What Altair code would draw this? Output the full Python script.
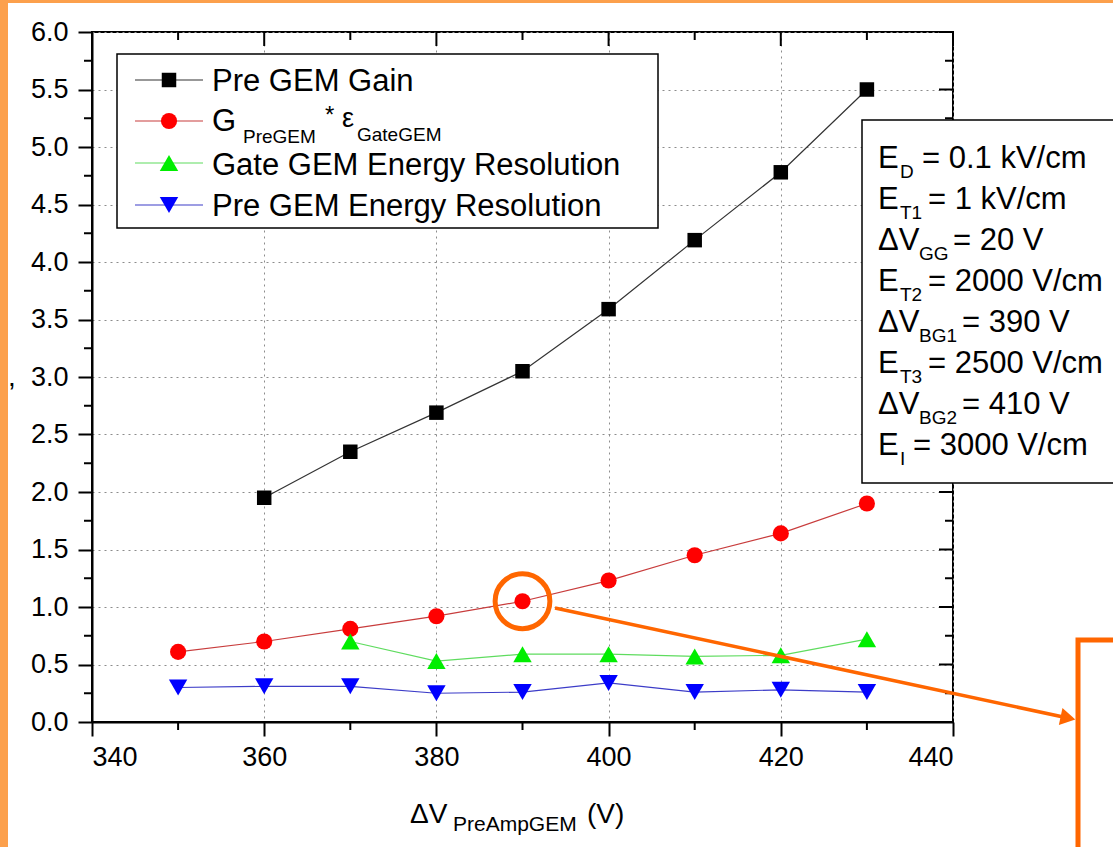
import altair as alt
import pandas as pd

# ---------------- data ----------------
volts = [350, 360, 370, 380, 390, 400, 410, 420, 430]
pre_gem_gain = [None, 1.95, 2.35, 2.69, 3.05, 3.59, 4.19, 4.78, 5.50]
g_eps = [0.61, 0.70, 0.81, 0.92, 1.05, 1.23, 1.45, 1.64, 1.90]
gate_res = [None, None, 0.70, 0.53, 0.59, 0.59, 0.57, 0.58, 0.72]
pre_res = [0.30, 0.31, 0.31, 0.25, 0.26, 0.34, 0.26, 0.28, 0.26]

series_keys = ["gain", "geps", "gate", "preres"]
series_values = [pre_gem_gain, g_eps, gate_res, pre_res]
legend_labels = ["Pre GEM Gain", "G*eps", "Gate GEM Energy Resolution", "Pre GEM Energy Resolution"]

x_ticks = [340, 360, 380, 400, 420, 440]
x_minor = [350, 370, 390, 410, 430]
y_ticks = [0.0, 0.5, 1.0, 1.5, 2.0, 2.5, 3.0, 3.5, 4.0, 4.5, 5.0, 5.5, 6.0]
y_minor = [0.25, 0.75, 1.25, 1.75, 2.25, 2.75, 3.25, 3.75, 4.25, 4.75, 5.25, 5.75]

highlight_x = 390
highlight_y = g_eps[volts.index(highlight_x)]

annot_main = ["E", "E", "\u0394V", "E", "\u0394V", "E", "\u0394V", "E"]
annot_sub = ["D", "T1", "GG", "T2", "BG1", "T3", "BG2", "I"]
annot_rest = ["= 0.1 kV/cm", "= 1 kV/cm", "= 20 V", "= 2000 V/cm", "= 390 V",
              "= 2500 V/cm", "= 410 V", "= 3000 V/cm"]

# ---------------- styling ----------------
FONT = "Liberation Sans"
OX, OY = 92, 32          # plot origin inside the canvas
W, H = 861, 690

line_colors = {"gain": "#333333", "geps": "#c83c3c", "gate": "#5fdc5f", "preres": "#3c3cc8"}
mark_colors = {"gain": "#000000", "geps": "#ff0000", "gate": "#00ee00", "preres": "#0000ff"}
shapes = {"gain": "square", "geps": "circle", "gate": "triangle-up", "preres": "triangle-down"}
sizes = {"gain": 210, "geps": 260, "gate": 340, "preres": 340}

rows = []
for key, vals in zip(series_keys, series_values):
    for v, val in zip(volts, vals):
        if val is not None:
            rows.append({"series": key, "volt": v, "value": val})
df = pd.DataFrame(rows)

xscale = alt.Scale(domain=[340, 440], nice=False, zero=False)
yscale = alt.Scale(domain=[0, 6], nice=False, zero=False)
xaxis = alt.Axis(values=x_ticks, format="d", grid=True, title=None)
yaxis = alt.Axis(values=y_ticks, format=".1f", grid=True, title=None)
one = pd.DataFrame({"a": [0]})


def X(field):
    return alt.X(field, scale=xscale, axis=xaxis, title=None)


def Y(field):
    return alt.Y(field, scale=yscale, axis=yaxis, title=None)


def px(x):
    return x - OX


def py(y):
    return y - OY


def txt(s, x, y, size, color="black", align="left"):
    return alt.Chart(one).mark_text(
        text=s, font=FONT, fontSize=size, color=color, align=align, baseline="alphabetic"
    ).encode(x=alt.value(px(x)), y=alt.value(py(y)))


def box(x1, y1, x2, y2, fill, stroke=None, sw=0):
    kw = dict(fill=fill)
    if stroke is not None:
        kw.update(stroke=stroke, strokeWidth=sw)
    return alt.Chart(one).mark_rect(**kw).encode(
        x=alt.value(px(x1)), x2=alt.value(px(x2)), y=alt.value(py(y1)), y2=alt.value(py(y2))
    )


layers = []

# slide background strips
layers.append(box(0, 0, 8, 847, "#fca04c"))
layers.append(box(0, 0, 1113, 3, "#fca04c"))

# minor / mirrored ticks
ymin_df = pd.DataFrame({"value": y_minor})
xmin_df = pd.DataFrame({"volt": x_minor})
ymaj_df = pd.DataFrame({"value": y_ticks})
xmaj_df = pd.DataFrame({"volt": x_ticks})


def yrule(d, x1, x2):
    return alt.Chart(d).mark_rule(color="black", strokeWidth=2).encode(
        y=Y("value:Q"), x=alt.value(x1), x2=alt.value(x2))


def xrule(d, y1, y2):
    return alt.Chart(d).mark_rule(color="black", strokeWidth=2).encode(
        x=X("volt:Q"), y=alt.value(y1), y2=alt.value(y2))


layers.append(yrule(ymin_df, -8, 0))
layers.append(xrule(xmin_df, H, H + 8))
layers.append(yrule(ymaj_df, W - 14, W))
layers.append(yrule(ymin_df, W - 8, W))
layers.append(xrule(xmaj_df, 0, 14))
layers.append(xrule(xmin_df, 0, 8))

# legend and annotation boxes
layers.append(box(117, 54, 658, 228, "white", "black", 1.5))
layers.append(box(862, 120, 1130, 483, "white", "black", 1.5))

# data lines
layers.append(
    alt.Chart(df).mark_line(strokeWidth=1.2).encode(
        x=X("volt:Q"),
        y=Y("value:Q"),
        color=alt.Color("series:N", scale=alt.Scale(domain=series_keys,
                        range=[line_colors[k] for k in series_keys]), legend=None),
        detail="series:N",
    )
)
# data markers
for k in series_keys:
    layers.append(
        alt.Chart(df).transform_filter(alt.datum.series == k).mark_point(
            filled=True, opacity=1, shape=shapes[k], size=sizes[k], color=mark_colors[k]
        ).encode(x=X("volt:Q"), y=Y("value:Q"))
    )

# highlight circle around a data point
hl_df = pd.DataFrame({"volt": [highlight_x], "value": [highlight_y]})
layers.append(
    alt.Chart(hl_df).mark_point(shape="circle", filled=False, size=3000, stroke="#ff6600",
                               strokeWidth=5, opacity=1).encode(x=X("volt:Q"), y=Y("value:Q"))
)
# arrow
layers.append(alt.Chart(one).mark_rule(color="#ff6600", strokeWidth=3.5).encode(
    x=alt.value(px(555)), y=alt.value(py(608)), x2=alt.value(px(1068)), y2=alt.value(py(718))))
layers.append(alt.Chart(one).mark_point(shape="triangle-right", filled=True, color="#ff6600",
                                        opacity=1, size=300, angle=12).encode(
    x=alt.value(px(1068)), y=alt.value(py(718))))
# partial orange box at right
layers.append(alt.Chart(one).mark_rect(fill="white", fillOpacity=0, stroke="#ff6600", strokeWidth=5).encode(
    x=alt.value(px(1078)), x2=alt.value(px(1180)), y=alt.value(py(640)), y2=alt.value(py(900))))

# legend entries
leg_y = [80, 121, 163, 205]
for k, yc in zip(series_keys, leg_y):
    layers.append(alt.Chart(one).mark_rule(color=line_colors[k], strokeWidth=1.2).encode(
        x=alt.value(px(135)), x2=alt.value(px(203)), y=alt.value(py(yc))))
    layers.append(alt.Chart(one).mark_point(filled=True, opacity=1, shape=shapes[k], size=sizes[k],
                                            color=mark_colors[k]).encode(
        x=alt.value(px(169)), y=alt.value(py(yc))))
layers.append(txt(legend_labels[0], 212, 91, 31))
layers.append(txt("G", 212, 131, 31))
layers.append(txt("PreGEM", 243, 143, 19))
layers.append(txt("*", 325, 123, 24))
layers.append(txt("\u03b5", 342, 127, 27))
layers.append(txt("GateGEM", 357, 141, 19))
layers.append(txt(legend_labels[2], 212, 175, 31))
layers.append(txt(legend_labels[3], 212, 216, 31))

# annotation text
base_y = [168, 209, 250, 291, 332, 373, 414, 455]
for m, s, r, by in zip(annot_main, annot_sub, annot_rest, base_y):
    dv = m != "E"
    layers.append(txt(m, 878, by, 31))
    layers.append(txt(s, 919 if dv else 900, by + 10, 19))
    if dv:
        rx = 953 if len(s) == 2 else 962
    else:
        rx = 922 if s == "D" else (913 if s == "I" else 928)
    layers.append(txt(r, rx, by, 31))

# x axis title
layers.append(txt("\u0394V", 410, 823, 28))
layers.append(txt("PreAmpGEM", 453, 831, 21))
layers.append(txt("(V)", 587, 823, 28))
# clipped y-title remnant
layers.append(txt(",", 8, 386, 28))

chart = alt.layer(*layers).properties(
    width=W, height=H,
    padding={"left": OX, "top": OY, "right": 1113 - OX - W, "bottom": 847 - OY - H},
    autosize=alt.AutoSizeParams(type="none"),
).configure(background="white").configure_view(
    stroke="black", strokeWidth=2
).configure_axis(
    labelFont=FONT, labelFontSize=27, labelColor="black",
    tickSize=14, tickWidth=2, tickColor="black",
    domain=True, domainColor="black", domainWidth=2,
    gridColor="#8c8c8c", gridDash=[2, 4], gridWidth=1,
).configure_axisX(labelPadding=8).configure_axisY(labelPadding=10)

chart.save("out.html", embed_options={"renderer": "svg", "actions": False})
